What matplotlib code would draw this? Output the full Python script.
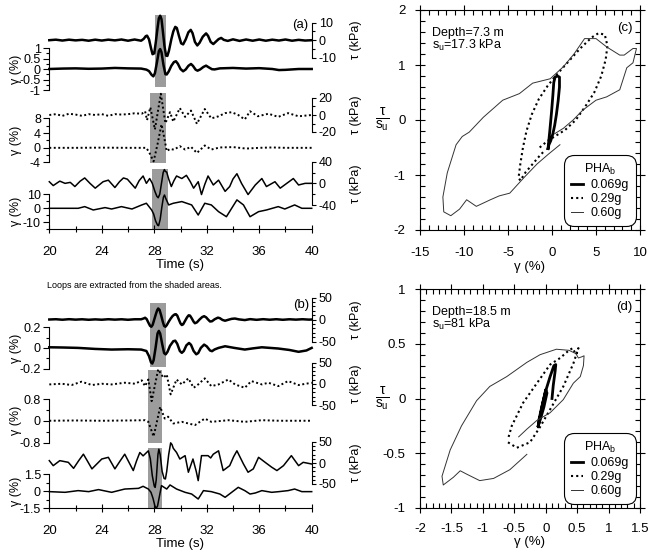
import matplotlib
matplotlib.use("Agg")
import matplotlib.pyplot as plt
from matplotlib.ticker import MultipleLocator, FuncFormatter
from matplotlib.lines import Line2D

plt.rcParams["font.family"] = ["Liberation Sans", "DejaVu Sans"]
plt.rcParams["axes.unicode_minus"] = False
plt.rcParams["mathtext.fontset"] = "custom"
plt.rcParams["mathtext.rm"] = "Liberation Sans"
plt.rcParams["mathtext.it"] = "Liberation Sans"

# ---- time histories, (time s, value) ----
# panel (a): depth 7.3 m
a1_tau = [(20.0, 0.0), (20.5, 0.3), (21.0, -0.2), (21.5, 0.3), (22.0, -0.1), (22.5, 0.2), (23.0, -0.3),
          (23.5, 0.3), (24.0, -0.2), (24.5, 0.3), (25.0, -0.1), (25.5, 0.4), (26.0, -0.3), (26.5, 0.4),
          (27.0, -0.3), (27.2, 0.8), (27.35, 2.3), (27.45, 2.6), (27.6, 0.5), (27.75, -4.5), (27.87, -8.0),
          (28.0, -7.5), (28.12, -1.0), (28.25, 7.0), (28.35, 12.5), (28.45, 14.0), (28.55, 12.0),
          (28.65, 5.5), (28.78, -3.5), (28.9, -8.8), (29.0, -9.0), (29.12, -6.0), (29.3, 0.5), (29.45, 5.0),
          (29.6, 7.6), (29.72, 7.0), (29.88, 2.5), (30.05, -1.8), (30.2, -2.4), (30.4, 0.5), (30.6, 4.5),
          (30.78, 5.9), (30.92, 4.0), (31.1, -1.0), (31.28, -3.0), (31.45, -1.5), (31.7, 2.0), (31.95, 3.9),
          (32.1, 2.5), (32.3, -1.0), (32.5, -2.2), (32.7, -0.8), (32.9, 0.6), (33.1, 1.3), (33.3, 0.2),
          (33.6, -0.4), (34.0, 0.5), (34.5, -0.4), (35.0, 0.4), (35.5, -0.3), (36.0, 0.4), (36.5, -0.3),
          (37.0, 0.3), (37.5, -0.2), (38.0, 0.4), (38.5, -0.3), (39.0, 0.2), (39.5, -0.2), (40.0, 0.0)]
a1_gamma = [(20, 0.0), (21, 0.02), (22, 0.03), (23, 0.01), (24, 0.02), (25, 0.05), (26, 0.03), (27, 0.02),
            (27.4, -0.03), (27.6, -0.1), (27.8, -0.28), (27.93, -0.35), (28.05, -0.2), (28.2, 0.3),
            (28.35, 0.85), (28.45, 0.95), (28.55, 0.8), (28.7, 0.2), (28.85, -0.25), (28.95, -0.26),
            (29.1, -0.12), (29.3, 0.15), (29.5, 0.33), (29.65, 0.37), (29.8, 0.25), (30.0, 0.0),
            (30.2, -0.11), (30.4, -0.02), (30.6, 0.15), (30.8, 0.24), (30.95, 0.15), (31.15, -0.03),
            (31.3, -0.08), (31.5, -0.02), (31.75, 0.1), (31.95, 0.16), (32.15, 0.08), (32.4, -0.01),
            (32.6, -0.02), (33.0, 0.03), (34.0, 0.05), (35.0, 0.02), (36.0, 0.04), (37.0, 0.0),
            (37.5, -0.05), (38.0, -0.04), (39.0, 0.0), (40.0, 0.0)]
a2_tau = [(20, 0), (20.5, 1), (21, -1), (21.5, 1.5), (22, 0.5), (22.5, -1), (23, 1), (23.5, 0), (24, 1),
          (24.5, -1), (25, 1), (25.5, 0.5), (26, 1), (26.5, 2), (27.05, 1.5), (27.3, 4.4), (27.45, -6),
          (27.7, 9), (28.05, -17), (28.5, 25), (28.85, -9.6), (29.2, 3.3), (29.45, -7.8), (29.95, 8.1),
          (30.35, -2.2), (30.8, 5.2), (31.25, -10.4), (31.85, 7), (32.35, -4), (32.9, -1.5), (33.4, 2.2),
          (33.9, 3.3), (34.4, 0), (34.9, -5.2), (35.3, 4.4), (35.9, -1.5), (36.7, 1.5), (37.45, -2.2),
          (38.2, 2.2), (39.0, -1.5), (40.0, 0)]
a2_gamma = [(20, 0), (22, 0), (24, 0.05), (26, 0), (27.0, 0), (27.4, 0), (27.65, -1.5), (27.95, -3.7),
            (28.25, 1.0), (28.55, 6.4), (28.75, 3.0), (28.95, -0.9), (29.2, -0.3), (29.5, -0.5),
            (29.95, 0.46), (30.35, -0.46), (30.8, 0.28), (31.25, -1.4), (31.85, 0.64), (32.35, -0.46),
            (33.0, 0.1), (34.0, 0.2), (35.0, -0.2), (36.0, 0.0), (37.0, 0.1), (38.0, 0.0), (40.0, 0.0)]
a3_tau = [(20.0, 3), (20.3, -4.1), (20.8, 4.1), (21.2, 0), (21.6, 1.8), (21.95, -5.9), (22.35, 4),
          (22.7, 10), (23.1, 0), (23.5, -8.9), (24.1, 3), (24.5, 5.9), (25.0, -7.7), (25.35, 3),
          (25.65, 10), (25.95, 7.7), (26.55, -8.9), (26.85, 5), (27.15, 13.6), (27.4, 0), (27.65, 8.9),
          (27.85, 0), (28.05, -15), (28.2, -24), (28.3, -26.6), (28.42, -20), (28.55, 0), (28.68, 20),
          (28.77, 25.4), (28.85, 22), (28.95, 20.7), (29.1, 8), (29.3, -5.9), (29.5, 5), (29.7, 13.6),
          (30.1, 8.9), (30.45, 14.8), (30.75, 3), (31.0, -8.9), (31.35, 3), (31.6, -20.7), (31.85, -2),
          (32.1, 13.6), (32.5, -3), (32.9, 5.9), (33.4, -14.8), (33.75, -5.9), (34.0, 8), (34.3, 17.8),
          (34.65, 0), (35.15, -20.7), (35.7, -3), (36.2, 8.9), (36.55, -5.9), (37.2, 3), (37.6, -8.9),
          (38.1, 0), (38.6, 8.9), (39.0, -3), (39.5, 0), (40.0, 0)]
a3_gamma = [(20, 0), (21.2, 0), (22.2, 0), (22.7, 1.2), (23.35, -1.2), (24.25, 0.5), (24.75, -0.5),
            (25.5, 1.2), (26.3, -0.5), (27.05, 2.4), (27.4, 3.6), (27.8, -1.2), (27.95, -4), (28.1, -9),
            (28.25, -12), (28.33, -12.4), (28.45, -8), (28.58, 1), (28.7, 8), (28.78, 9.5), (28.88, 7),
            (29.1, 2.4), (29.45, 3.6), (30.1, 4.8), (30.85, 2.4), (31.35, -4.8), (31.85, 3.6), (32.35, 2.4),
            (32.9, -2.4), (33.5, -6), (34.3, 6), (34.8, 2.4), (35.3, -6), (35.95, -2.4), (36.55, -1.2),
            (37.45, 1.2), (37.95, -0.5), (38.7, 2.4), (39.25, 0), (40, 0)]

# panel (b): depth 18.5 m
b1_tau = [(20, 0), (20.5, 0.6), (21, -0.5), (21.5, 0.7), (22, -0.3), (22.5, 0.5), (23, -0.6), (23.5, 0.3),
          (24, -0.5), (24.5, 0.6), (25, -0.3), (25.5, 0.5), (26, -0.6), (26.5, 0.5), (27.0, 0.5),
          (27.2, 2.5), (27.3, 4.0), (27.42, 1.0), (27.55, -7), (27.68, -14.5), (27.78, -16.5), (27.88, -12),
          (28.0, 0), (28.12, 12), (28.22, 21), (28.3, 25), (28.4, 22), (28.52, 10), (28.65, -5),
          (28.75, -14.5), (28.85, -16.5), (28.95, -13), (29.1, -5), (29.25, 2), (29.4, 8), (29.55, 11.5),
          (29.65, 12), (29.75, 9), (29.9, -2), (30.0, -9), (30.1, -12.5), (30.2, -11), (30.35, -3),
          (30.5, 5), (30.62, 9.5), (30.72, 9), (30.85, 3), (31.0, -5), (31.1, -8.5), (31.25, -6.5),
          (31.45, 0), (31.65, 5.5), (31.8, 7.5), (31.95, 5), (32.1, 0), (32.25, -4.5), (32.4, -4),
          (32.6, 0.5), (32.85, 4.2), (33.0, 3), (33.2, -1), (33.4, -2.8), (33.6, -1), (33.9, 1.5),
          (34.15, 2.2), (34.45, 0.3), (34.9, -1.3), (35.3, 0.8), (35.8, -0.7), (36.3, 0.7), (36.8, -0.5),
          (37.3, 0.6), (37.8, -0.6), (38.3, 0.5), (38.8, -0.3), (39.3, 0.6), (39.8, -0.3), (40, 0)]
b1_gamma = [(20, 0.006), (21, 0.004), (22.2, 0.0), (23.5, -0.01), (24.75, -0.016), (26.0, -0.013),
            (27.0, -0.016), (27.4, -0.03), (27.6, -0.08), (27.75, -0.14), (27.85, -0.152), (27.95, -0.12),
            (28.1, 0.0), (28.25, 0.14), (28.35, 0.165), (28.45, 0.14), (28.6, 0.04), (28.75, -0.05),
            (28.87, -0.063), (29.0, -0.04), (29.2, 0.02), (29.45, 0.065), (29.6, 0.07), (29.75, 0.04),
            (29.95, -0.03), (30.1, -0.048), (30.25, -0.03), (30.45, 0.025), (30.65, 0.048), (30.8, 0.03),
            (31.0, -0.03), (31.2, -0.062), (31.35, -0.05), (31.55, 0.0), (31.8, 0.032), (32.0, 0.015),
            (32.25, -0.025), (32.4, -0.032), (32.6, -0.015), (32.9, 0.0), (33.4, 0.016), (34.1, 0.0),
            (34.9, -0.016), (35.5, -0.005), (36.2, 0.006), (37.45, -0.006), (38.3, -0.02), (39.0, -0.038),
            (39.6, -0.025), (40, 0.0)]
b2_tau = [(20, -1.6), (20.95, 0), (21.7, -3), (22.45, 4.8), (23.25, -3), (24.0, 0), (24.75, -1.6),
          (25.75, 2.4), (26.55, 0), (27.05, 8), (27.3, -5.6), (27.55, 10), (27.8, -41), (28.3, 34),
          (28.7, 14), (28.95, 22), (29.25, -25), (29.7, 10), (30.1, -1.6), (30.6, 12.7), (31.0, -9.5),
          (31.35, -1.6), (31.85, 12.7), (32.35, -5.6), (32.9, -1.6), (33.65, 10), (34.15, -1.6), (34.9, -9.5),
          (35.4, 6.3), (36.2, -1.6), (36.7, 2.4), (37.45, -5.6), (38.2, 6.3), (39.0, -3), (40, 2.4)]
b2_gamma = [(20, 0), (22, 0.01), (24, 0), (26, 0.01), (27.3, 0.02), (27.55, -0.04), (27.95, -0.58),
            (28.45, 0.51), (28.8, 0.08), (29.05, 0.15), (29.45, -0.1), (30.1, -0.04), (31.1, -0.16),
            (31.85, 0.08), (32.35, -0.04), (33.65, 0.02), (34.9, -0.04), (36.2, 0.02), (37.5, 0), (40, 0)]
b3_tau = [(20.0, 5.6), (20.3, -6.3), (20.8, 5.6), (21.45, 1.6), (21.85, -12.7), (22.25, 6), (22.6, 21),
          (22.9, 5), (23.25, -14), (24.0, 9.5), (24.5, 13.5), (25.0, -14), (25.4, 5), (25.75, 21),
          (26.05, 3), (26.4, -18), (26.65, 5), (26.9, 25), (27.15, 17), (27.55, 29), (27.7, 10),
          (27.85, -30), (28.0, -55), (28.07, -58), (28.15, -40), (28.28, 20), (28.35, 33), (28.45, 20),
          (28.6, -20), (28.75, -37), (28.85, -38), (28.95, -20), (29.1, 20), (29.25, 48), (29.35, 44),
          (29.45, 35), (29.7, 25), (29.95, 9.5), (30.35, 17.5), (30.6, -22), (30.95, 9.5), (31.2, -20),
          (31.35, -42), (31.6, 17.5), (32.1, 17.5), (32.3, 12), (32.5, 21), (32.9, 29), (33.25, -18),
          (33.75, -6.3), (34.05, 15), (34.3, 29), (34.8, -2.4), (35.15, -22), (35.55, -14), (35.95, 13.5),
          (36.45, 1.6), (36.95, -10), (37.35, -18), (37.85, -6.3), (38.45, 17.5), (39.0, -6.3),
          (39.35, 1.6), (40.0, -2.4)]
b3_gamma = [(20, -0.03), (21.2, -0.09), (22.2, 0.06), (23.0, -0.03), (23.75, 0.15), (24.75, -0.09),
            (25.75, 0.2), (26.8, 0.26), (27.15, 0.44), (27.55, 0.2), (27.75, -0.09), (27.9, -0.6),
            (28.05, -1.3), (28.15, -1.5), (28.25, -1.3), (28.4, -0.4), (28.55, 0.5), (28.95, 0.2),
            (29.2, 0.56), (29.7, 0.2), (30.35, -0.09), (30.85, -0.24), (31.35, -0.68), (31.75, 0.06),
            (32.35, -0.03), (33.0, -0.24), (33.4, -0.53), (33.9, -0.09), (34.4, 0.35), (34.9, 0.06),
            (35.3, -0.24), (35.7, -0.15), (36.2, 0.06), (36.95, -0.09), (37.5, -0.03), (38.2, 0.06),
            (38.7, 0.2), (39.25, -0.03), (40, -0.03)]

# shaded windows (s) for the three motions
shade_a = [(28.05, 28.87), (27.67, 28.87), (27.85, 29.07)]
shade_b = [(27.67, 28.87), (27.5, 28.6), (27.55, 28.6)]

# ---- stress-strain loops, (gamma %, tau/su) ----
c_low = [(-0.45, -0.52), (-0.25, -0.2), (-0.05, 0.15), (0.1, 0.45), (0.2, 0.68), (0.35, 0.78), (0.6, 0.8),
         (0.85, 0.78), (0.85, 0.6), (0.7, 0.35), (0.5, 0.1), (0.3, -0.1), (0.1, -0.25), (-0.15, -0.38),
         (-0.35, -0.45), (-0.45, -0.52)]
c_mid = [(-1.4, -0.5), (-0.5, -0.38), (0.5, -0.28), (1.5, -0.18), (2.7, 0.0), (3.8, 0.25), (4.8, 0.5),
         (5.6, 0.8), (6.1, 1.1), (6.3, 1.35), (6.0, 1.55), (5.3, 1.58), (4.5, 1.5), (3.2, 1.3), (1.8, 1.05),
         (0.5, 0.82), (-0.5, 0.62), (-1.5, 0.38), (-2.3, 0.1), (-2.9, -0.2), (-3.3, -0.5), (-3.6, -0.8),
         (-3.8, -1.05), (-3.6, -1.1), (-3.0, -0.95), (-2.2, -0.8), (-1.4, -0.65), (-0.8, -0.55)]
c_high = [(0.9, -0.45), (-0.4, -0.62), (-1.7, -0.8), (-3.2, -1.05), (-4.8, -1.33), (-6.0, -1.38),
          (-7.0, -1.45), (-8.6, -1.57), (-9.7, -1.45), (-10.5, -1.62), (-11.5, -1.74), (-12.3, -1.67),
          (-12.4, -1.4), (-11.9, -0.96), (-10.9, -0.45), (-10.2, -0.3), (-9.4, -0.22), (-7.8, 0.05),
          (-5.6, 0.36), (-3.7, 0.48), (-2.2, 0.67), (-0.2, 0.75), (1.3, 0.97), (2.5, 1.2), (3.7, 1.48),
          (5.0, 1.48), (6.2, 1.33), (7.7, 1.18), (8.2, 1.18), (9.2, 1.3), (9.6, 1.3), (9.2, 1.04),
          (8.5, 0.95), (7.7, 0.55), (6.2, 0.42), (5.0, 0.36), (3.5, 0.18), (2.4, 0.0), (1.3, -0.15),
          (0.3, -0.25)]
d_low = [(0.1, 0.0), (0.12, 0.12), (0.15, 0.25), (0.16, 0.31), (0.13, 0.3), (0.07, 0.2), (0.0, 0.07),
         (-0.06, -0.07), (-0.11, -0.2), (-0.12, -0.26), (-0.1, -0.2), (-0.05, -0.05), (0.0, 0.08),
         (0.02, 0.05), (-0.03, -0.08), (-0.08, -0.18), (-0.12, -0.25)]
d_mid = [(-0.6, -0.40), (-0.46, -0.45), (-0.25, -0.40), (-0.09, -0.26), (0.07, -0.1), (0.28, 0.11),
         (0.44, 0.32), (0.52, 0.46), (0.48, 0.40), (0.43, 0.46), (0.37, 0.44), (0.23, 0.37), (0.07, 0.31),
         (-0.14, 0.14), (-0.36, -0.04), (-0.54, -0.25), (-0.6, -0.37)]
d_high = [(-0.30, -0.51), (-0.57, -0.65), (-0.83, -0.73), (-1.05, -0.75), (-1.26, -0.69), (-1.36, -0.66),
          (-1.47, -0.72), (-1.63, -0.79), (-1.65, -0.71), (-1.52, -0.47), (-1.34, -0.25), (-1.10, -0.02),
          (-0.89, 0.11), (-0.62, 0.20), (-0.30, 0.33), (-0.09, 0.40), (0.17, 0.45), (0.37, 0.44),
          (0.48, 0.41), (0.52, 0.37), (0.57, 0.38), (0.61, 0.39), (0.60, 0.30), (0.55, 0.20), (0.44, 0.14),
          (0.28, -0.01), (0.07, -0.13), (-0.14, -0.20), (-0.30, -0.28), (-0.43, -0.35)]
pha_labels = ["0.069g", "0.29g", "0.60g"]

# ---- styles ----
thick = dict(color="black", lw=1.8)
dots = dict(color="black", lw=1.4, ls=(0, (1, 1.3)))
thin = dict(color="black", lw=1.1)
loop_styles = [dict(color="black", lw=2.0), dict(color="black", lw=1.5, ls=(0, (1, 1.5))),
               dict(color="#333333", lw=0.7)]

W, H = 652, 552
fig = plt.figure(figsize=(W / 100, H / 100), dpi=100)
fmt = FuncFormatter(lambda v, p: "%g" % v)
X0, X1 = 49.3, 311.7


def box(left, top, right, bottom):
    return fig.add_axes([left / W, 1 - bottom / H, (right - left) / W, (bottom - top) / H])


def unzip(pairs):
    return [p[0] for p in pairs], [p[1] for p in pairs]


def shade(top, bottom, span):
    ax = box(X0, top, X1, bottom)
    ax.set_xlim(20, 40)
    ax.axis("off")
    ax.axvspan(span[0], span[1], color="#9c9c9c", lw=0)


def tau_trace(top, bottom, lim, minor, data, style):
    ax = box(X0, top, X1, bottom)
    ax.set_xlim(20, 40)
    ax.set_ylim(-lim, lim)
    ax.patch.set_visible(False)
    for s in ("left", "top", "bottom"):
        ax.spines[s].set_visible(False)
    ax.spines["right"].set_linewidth(0.8)
    ax.yaxis.tick_right()
    ax.yaxis.set_label_position("right")
    ax.set_xticks([])
    ax.set_yticks([-lim, 0, lim])
    ax.yaxis.set_major_formatter(fmt)
    ax.yaxis.set_minor_locator(MultipleLocator(minor))
    ax.tick_params(axis="y", which="major", length=3, width=0.8, pad=2, labelsize=9)
    ax.tick_params(axis="y", which="minor", length=2, width=0.8)
    ax.set_ylabel("τ (kPa)", fontsize=9)
    ax.yaxis.set_label_coords(1.145, 0.5)
    t, v = unzip(data)
    ax.plot(t, v, clip_on=False, **style)
    return ax


def gamma_trace(top, bottom, ylim, ticks, minor, data, style, time_axis=False):
    ax = box(X0, top, X1, bottom)
    ax.set_xlim(20, 40)
    ax.set_ylim(*ylim)
    ax.patch.set_visible(False)
    for s in ("right", "top", "bottom"):
        ax.spines[s].set_visible(False)
    ax.spines["left"].set_linewidth(0.8)
    ax.set_yticks(ticks)
    ax.yaxis.set_major_formatter(fmt)
    ax.yaxis.set_minor_locator(MultipleLocator(minor))
    ax.tick_params(axis="y", which="major", length=4, width=0.8, pad=2, labelsize=9)
    ax.tick_params(axis="y", which="minor", length=2.5, width=0.8)
    ax.set_ylabel("γ (%)", fontsize=9)
    ax.yaxis.set_label_coords(-0.105, 0.5)
    if time_axis:
        ax.spines["bottom"].set_visible(True)
        ax.spines["bottom"].set_linewidth(0.8)
        ax.set_xticks(range(20, 41, 4))
        ax.xaxis.set_minor_locator(MultipleLocator(2))
        ax.tick_params(axis="x", which="major", direction="inout", length=6, width=0.8, pad=9, labelsize=9.5)
        ax.tick_params(axis="x", which="minor", direction="inout", length=5, width=0.8)
        ax.set_xlabel("Time (s)", fontsize=9.5, labelpad=1)
    else:
        ax.set_xticks([])
    t, v = unzip(data)
    ax.plot(t, v, clip_on=False, **style)
    return ax


# ---- panel (a) ----
shade(15, 87, shade_a[0])
shade(93, 162.7, shade_a[1])
shade(169, 229.3, shade_a[2])
tau_trace(22.7, 57.7, 10, 5, a1_tau, thick)
gamma_trace(48, 90, (-1, 1), [-1, -0.5, 0, 0.5, 1], 0.25, a1_gamma, thick)
tau_trace(98, 132, 20, 10, a2_tau, dots)
gamma_trace(118.5, 162.5, (-4, 8), [-4, 0, 4, 8], 2, a2_gamma, dots)
tau_trace(161.7, 205, 40, 20, a3_tau, thin)
gamma_trace(194.3, 229.3, (-15, 10), [-10, 0, 10], 5, a3_gamma, thin, time_axis=True)
fig.text(300 / W, 1 - 25 / H, "(a)", fontsize=9.5, ha="center", va="center")

fig.text(47 / W, 1 - 285 / H, "Loops are extracted from the shaded areas.", fontsize=6.5,
         ha="left", va="center")

# ---- panel (b) ----
shade(303, 367, shade_b[0])
shade(370, 443, shade_b[1])
shade(448, 508.3, shade_b[2])
tau_trace(297.5, 341.5, 50, 10, b1_tau, thick)
gamma_trace(327.3, 368.5, (-0.2, 0.2), [-0.2, 0, 0.2], 0.1, b1_gamma, thick)
tau_trace(362.5, 405, 50, 10, b2_tau, dots)
gamma_trace(399, 442.5, (-0.8, 0.8), [-0.8, 0, 0.8], 0.4, b2_gamma, dots)
tau_trace(442, 484, 50, 10, b3_tau, thin)
gamma_trace(474.3, 508.3, (-1.5, 1.5), [-1.5, 0, 1.5], 0.75, b3_gamma, thin, time_axis=True)
fig.text(301 / W, 1 - 305 / H, "(b)", fontsize=9.5, ha="center", va="center")


# ---- loops (c), (d) ----
def loop_panel(top, bottom, xlim, ylim, xstep, xminor, ystep, yminor, loops, depth, su, tag, xpad, xlabelpad):
    ax = box(420, top, 640, bottom)
    for data, style in zip(loops, loop_styles):
        g, r = unzip(data)
        ax.plot(g, r, **style)
    ax.set_xlim(*xlim)
    ax.set_ylim(*ylim)
    ax.xaxis.set_major_locator(MultipleLocator(xstep))
    ax.xaxis.set_minor_locator(MultipleLocator(xminor))
    ax.yaxis.set_major_locator(MultipleLocator(ystep))
    ax.yaxis.set_minor_locator(MultipleLocator(yminor))
    ax.xaxis.set_major_formatter(fmt)
    ax.yaxis.set_major_formatter(fmt)
    for s in ax.spines.values():
        s.set_linewidth(0.8)
    ax.tick_params(which="both", top=True, right=True, width=0.8, labelsize=9.5)
    ax.tick_params(which="major", direction="inout", length=7)
    ax.tick_params(which="minor", direction="in", length=3.5)
    ax.tick_params(axis="y", which="major", pad=7)
    ax.tick_params(axis="x", which="major", pad=xpad)
    ax.set_xlabel("γ (%)", fontsize=9.5, labelpad=xlabelpad)
    ax.set_ylabel(r"$\frac{\tau}{s_u}$", fontsize=14, rotation=0, ha="center", va="center")
    ax.yaxis.set_label_coords(-0.17, 0.5)
    ax.text(0.055, 0.895, depth, transform=ax.transAxes, fontsize=9, va="center")
    ax.text(0.055, 0.84, su, transform=ax.transAxes, fontsize=9, va="center")
    ax.text(0.93, 0.92, tag, transform=ax.transAxes, fontsize=9.5, ha="center", va="center")
    handles = [Line2D([], [], **st) for st in loop_styles]
    leg = ax.legend(handles, pha_labels, title=r"PHA$_\mathregular{b}$", loc="lower right",
                    bbox_to_anchor=(0.97, 0.03), borderaxespad=0, fontsize=9, title_fontsize=9,
                    handlelength=1.0, handletextpad=0.6, labelspacing=0.15, borderpad=0.35,
                    fancybox=True, framealpha=1, edgecolor="black")
    leg.get_frame().set_linewidth(0.8)
    leg.get_frame().set_boxstyle("round,pad=0.2,rounding_size=0.8")
    return ax


loop_panel(10, 230, (-15, 10), (-2, 2), 5, 1, 1, 0.2, [c_low, c_mid, c_high],
           "Depth=7.3 m", r"s$_\mathregular{u}$=17.3 kPa", "(c)", 9, 1)
loop_panel(289, 508, (-2, 1.5), (-1, 1), 0.5, 0.1, 0.5, 0.1, [d_low, d_mid, d_high],
           "Depth=18.5 m", r"s$_\mathregular{u}$=81 kPa", "(d)", 7, 1)

fig.savefig("out.png", dpi=100)
